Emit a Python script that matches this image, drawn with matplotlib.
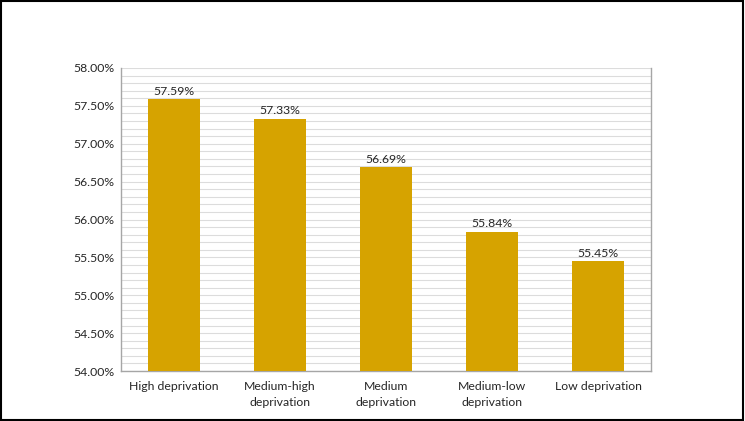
import matplotlib.pyplot as plt
from matplotlib.ticker import MultipleLocator, FuncFormatter
from matplotlib.patches import Rectangle

categories = ['High deprivation', 'Medium-high\ndeprivation', 'Medium\ndeprivation',
              'Medium-low\ndeprivation', 'Low deprivation']
values = [57.59, 57.33, 56.69, 55.84, 55.45]
value_labels = ['57.59%', '57.33%', '56.69%', '55.84%', '55.45%']

plt.rcParams['font.family'] = ['Lato', 'DejaVu Sans']

fig = plt.figure(figsize=(7.45, 4.21), dpi=100)
ax = fig.add_axes([121 / 745, 1 - 371 / 421, 530 / 745, 303 / 421])

x = list(range(len(categories)))
ax.bar(x, values, width=0.49, color='#D6A300', zorder=3)
ax.set_ylim(54, 58)
ax.set_xlim(-0.5, len(categories) - 0.5)

# value labels above the bars
for xi, v, lab in zip(x, values, value_labels):
    ax.text(xi, v + 0.03, lab, ha='center', va='bottom', fontsize=8.8, color='#262626', zorder=4)

ax.yaxis.set_major_locator(MultipleLocator(0.5))
ax.yaxis.set_minor_locator(MultipleLocator(0.1))
ax.yaxis.set_major_formatter(FuncFormatter(lambda v, p: f'{v:.2f}%'))
ax.grid(True, which='both', axis='y', color='#DCDCDC', linewidth=0.8, zorder=0)

ax.set_xticks(x)
ax.set_xticklabels(categories, fontsize=8.8, color='#262626', linespacing=1.55)
ax.tick_params(axis='x', length=0, pad=7)
ax.tick_params(axis='y', which='both', length=0, labelsize=8.8, labelcolor='#262626', pad=5)

ax.spines['top'].set_visible(False)
for s in ['left', 'right', 'bottom']:
    ax.spines[s].set_color('#A6A6A6')
    ax.spines[s].set_linewidth(1.0)

# black frame around the whole picture
fig.patches.append(Rectangle((0.0015, 0.0025), 0.996, 0.994, transform=fig.transFigure,
                             fill=False, edgecolor='black', linewidth=1.5))

fig.savefig('out.png', dpi=100, facecolor='white')
